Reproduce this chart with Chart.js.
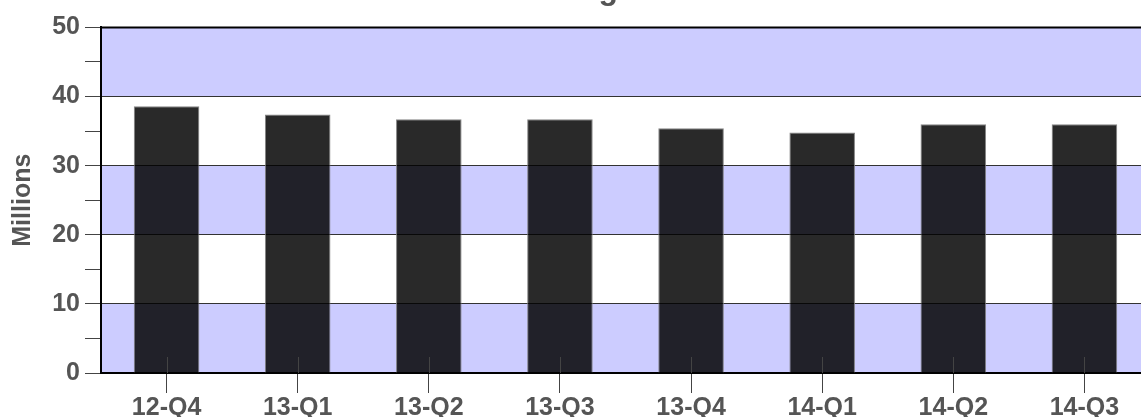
<!DOCTYPE html>
<html>
<head>
<meta charset="utf-8">
<script src="https://cdn.jsdelivr.net/npm/chart.js@4"></script>
<style>
  html, body { margin: 0; padding: 0; overflow: hidden; background: #fff; }
  #wrap { position: absolute; left: 0; top: -40px; }
</style>
</head>
<body>
<div id="wrap"><canvas id="salesChart" width="1152" height="473"></canvas></div>
<script>
// values (millions)
const quarters = ['12-Q4', '13-Q1', '13-Q2', '13-Q3', '13-Q4', '14-Q1', '14-Q2', '14-Q3'];
const salesMillions = [38.6, 37.4, 36.7, 36.7, 35.4, 34.8, 36.0, 36.0];
const yMin = 0;
const yMax = 50;
const yStep = 5;
const bandEdges = [[0, 10], [20, 30], [40, 50]];

const fontFamily = '"Liberation Sans", Arial, sans-serif';
const labelFont = { family: fontFamily, size: 25, weight: 'bold' };

// lavender bands behind the grid
const bandsPlugin = {
    id: 'bands',
    beforeDraw(chart) {
        const { ctx, chartArea } = chart;
        const y = chart.scales.y;
        ctx.save();
        ctx.fillStyle = '#ccccff';
        bandEdges.forEach(function(b) {
            const top = y.getPixelForValue(b[1]);
            const bottom = y.getPixelForValue(b[0]);
            ctx.fillRect(chartArea.left, top, chartArea.right - chartArea.left, bottom - top);
        });
        ctx.restore();
    }
};

// inner part of the x tick marks + top frame line
const framePlugin = {
    id: 'frame',
    afterDatasetsDraw(chart) {
        const { ctx, chartArea } = chart;
        const x = chart.scales.x;
        ctx.save();
        ctx.strokeStyle = '#444';
        ctx.lineWidth = 1;
        x.ticks.forEach(function(t, i) {
            const px = Math.round(x.getPixelForTick(i)) + 0.5;
            ctx.beginPath();
            ctx.moveTo(px, chartArea.bottom - 16);
            ctx.lineTo(px, chartArea.bottom);
            ctx.stroke();
        });
        ctx.strokeStyle = '#000';
        ctx.lineWidth = 2;
        ctx.beginPath();
        ctx.moveTo(chartArea.left - 1, chartArea.top);
        ctx.lineTo(chartArea.right, chartArea.top);
        ctx.stroke();
        ctx.restore();
    }
};

new Chart(document.getElementById('salesChart'), {
    type: 'bar',
    data: {
        labels: quarters,
        datasets: [{
            label: 'Sales',
            data: salesMillions,
            backgroundColor: 'rgba(0, 0, 0, 0.84)',
            borderColor: 'rgba(120, 120, 120, 0.9)',
            borderWidth: 1,
            borderSkipped: 'bottom',
            barPercentage: 0.5,
            categoryPercentage: 1.0
        }]
    },
    options: {
        responsive: false,
        animation: false,
        devicePixelRatio: 1,
        layout: { padding: { left: 0, right: 2, top: 0, bottom: 0 } },
        plugins: {
            legend: { display: false },
            tooltip: { enabled: false },
            title: {
                display: true,
                text: 'Zoom Sales - Trailing Twelve Months',
                color: '#555',
                font: { family: fontFamily, size: 32, weight: 'bold' },
                padding: { top: 11, bottom: 18 }
            }
        },
        scales: {
            x: {
                afterFit: function(scale) { scale.height = 60; },
                grid: {
                    offset: false,
                    drawOnChartArea: false,
                    tickLength: 20,
                    tickColor: '#444'
                },
                border: { color: '#000', width: 2 },
                ticks: { color: '#555', font: labelFont, padding: 0, maxRotation: 0 }
            },
            y: {
                min: yMin,
                max: yMax,
                afterFit: function(scale) { scale.width = 101; },
                grid: {
                    color: function(c) {
                        return c.tick && c.tick.value % 10 === 0 ? '#333' : 'rgba(0,0,0,0)';
                    },
                    tickColor: '#444',
                    tickLength: 16
                },
                border: { color: '#000', width: 2 },
                ticks: {
                    stepSize: yStep,
                    color: '#555',
                    font: labelFont,
                    padding: 5,
                    callback: function(value) {
                        return value % 10 === 0 ? value : '';
                    }
                },
                title: {
                    display: true,
                    text: 'Millions',
                    color: '#555',
                    font: { family: fontFamily, size: 25, weight: 'bold' },
                    padding: { top: 8, bottom: 0 }
                }
            }
        }
    },
    plugins: [bandsPlugin, framePlugin]
});
</script>
</body>
</html>
